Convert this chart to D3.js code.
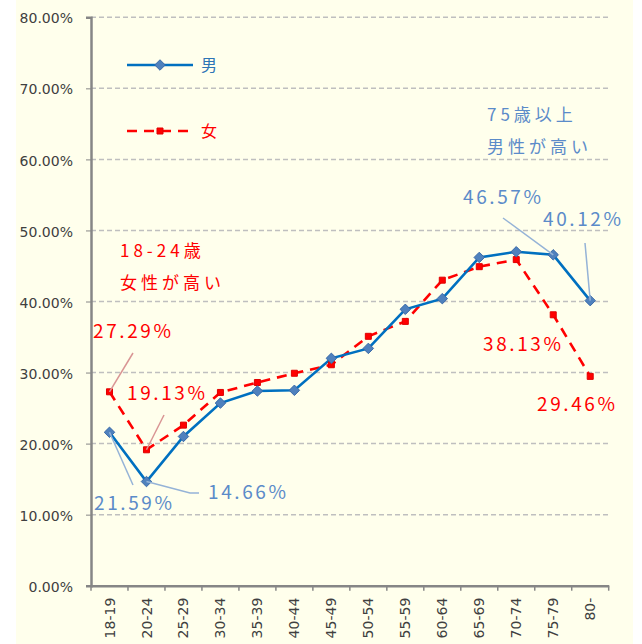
<!DOCTYPE html>
<html lang="ja">
<head>
<meta charset="UTF-8">
<title>男女別 年齢別</title>
<style>
    body { margin: 0; background: #fff; }
    .axis text { font-family: "DejaVu Sans", sans-serif; font-size: 14px; fill: #404040; }
    .axis path, .axis line { stroke: #868686; }
    .grid line { stroke: #bfbfbf; stroke-dasharray: 5,3; stroke-width: 1.5; }
    .note { font-family: "Noto Sans CJK JP", sans-serif; }
</style>
</head>
<body>
<script src="https://d3js.org/d3.v7.min.js"></script>
<script>
// values (percent)
var ages = ["18-19", "20-24", "25-29", "30-34", "35-39", "40-44", "45-49",
            "50-54", "55-59", "60-64", "65-69", "70-74", "75-79", "80-"];
var male = [21.59, 14.66, 21.0, 25.7, 27.4, 27.5, 32.0, 33.4, 38.9, 40.4, 46.2, 47.0, 46.57, 40.12];
var female = [27.29, 19.13, 22.6, 27.2, 28.6, 29.9, 31.1, 35.1, 37.2, 43.0, 44.9, 45.9, 38.13, 29.46];
var yTicks = [0, 10, 20, 30, 40, 50, 60, 70, 80];

var W = 642, H = 644;
var margin = {top: 17.3, left: 91},
    width = 517.7,
    height = 568.4;

var svg = d3.select("body").append("svg")
    .attr("width", W).attr("height", H);

svg.append("rect")
    .attr("x", 16).attr("y", 0)
    .attr("width", 617).attr("height", H)
    .attr("fill", "#ffffec");

var g = svg.append("g")
    .attr("transform", "translate(" + margin.left + "," + margin.top + ")");

var x = d3.scaleBand().domain(ages).range([0, width]);
var y = d3.scaleLinear().domain([0, 80]).range([height, 0]);
var cx = function(i) { return x(ages[i]) + x.bandwidth() / 2; };

// gridlines
g.append("g").attr("class", "grid")
    .selectAll("line")
    .data(yTicks.slice(1))
    .enter().append("line")
    .attr("x1", 0).attr("x2", width)
    .attr("y1", function(d) { return y(d); })
    .attr("y2", function(d) { return y(d); });

// axes
g.append("g")
    .attr("class", "axis axis--y")
    .call(d3.axisLeft(y).tickValues(yTicks).tickSize(5).tickPadding(13)
        .tickFormat(function(d) { return d.toFixed(2) + "%"; }))
    .call(function(a) { a.select(".domain").attr("stroke-width", 2.5); })
    .selectAll("text").attr("dy", "0.4em");

var xAxis = g.append("g")
    .attr("class", "axis axis--x")
    .attr("transform", "translate(0," + height + ")")
    .call(d3.axisBottom(x).tickSize(0).tickFormat(""));
xAxis.select(".domain").attr("stroke-width", 2.5);
// tick marks between categories
xAxis.selectAll(".sep")
    .data(d3.range(ages.length + 1))
    .enter().append("line")
    .attr("class", "sep")
    .attr("x1", function(i) { return i * x.step(); })
    .attr("x2", function(i) { return i * x.step(); })
    .attr("y1", 0).attr("y2", 5)
    .attr("stroke", "#868686").attr("stroke-width", 1.5);
xAxis.selectAll(".lab")
    .data(ages)
    .enter().append("text")
    .attr("class", "lab")
    .attr("transform", function(d) { return "translate(" + (x(d) + x.bandwidth() / 2) + ",12) rotate(-90)"; })
    .attr("dy", "0.36em")
    .attr("text-anchor", "end")
    .text(function(d) { return d; });

// lines
var line = d3.line()
    .x(function(d, i) { return cx(i); })
    .y(function(d) { return y(d); });

g.append("path")
    .datum(female)
    .attr("fill", "none")
    .attr("stroke", "#ff0000")
    .attr("stroke-width", 2.6)
    .attr("stroke-dasharray", "10,7")
    .attr("d", line);

g.append("path")
    .datum(male)
    .attr("fill", "none")
    .attr("stroke", "#0070c0")
    .attr("stroke-width", 2.6)
    .attr("d", line);

var diamond = d3.symbol().type(d3.symbolDiamond2).size(70);
var square = d3.symbol().type(d3.symbolSquare).size(36);

g.selectAll(".fm")
    .data(female)
    .enter().append("path")
    .attr("class", "fm")
    .attr("transform", function(d, i) { return "translate(" + cx(i) + "," + y(d) + ")"; })
    .attr("d", square)
    .attr("fill", "#ff0000")
    .attr("stroke", "#e00000");

g.selectAll(".mm")
    .data(male)
    .enter().append("path")
    .attr("class", "mm")
    .attr("transform", function(d, i) { return "translate(" + cx(i) + "," + y(d) + ")"; })
    .attr("d", diamond)
    .attr("fill", "#4f81bd")
    .attr("stroke", "#3a6aa8");

// legend
var leg = svg.append("g");
leg.append("line").attr("x1", 127).attr("x2", 193).attr("y1", 65).attr("y2", 65)
    .attr("stroke", "#0070c0").attr("stroke-width", 2.6);
leg.append("path").attr("transform", "translate(160,65)").attr("d", diamond)
    .attr("fill", "#4f81bd").attr("stroke", "#3a6aa8");
leg.append("text").attr("class", "note").attr("x", 201).attr("y", 71)
    .attr("font-size", 16).attr("fill", "#2e75b6").text("男");
leg.append("line").attr("x1", 127).attr("x2", 193).attr("y1", 131).attr("y2", 131)
    .attr("stroke", "#ff0000").attr("stroke-width", 2.6).attr("stroke-dasharray", "10,7");
leg.append("path").attr("transform", "translate(160,131)").attr("d", square)
    .attr("fill", "#ff0000").attr("stroke", "#e00000");
leg.append("text").attr("class", "note").attr("x", 201).attr("y", 137)
    .attr("font-size", 16).attr("fill", "#ff0000").text("女");

// value labels with leader lines
var blue = "#5b8bc9", red = "#ff0000";
var notes = [
    {s: female, i: 0, text: "27.29%", c: red, tx: 93, ty: 338, lead: [[133, 353]]},
    {s: female, i: 1, text: "19.13%", c: red, tx: 127, ty: 400, lead: [[164, 415]]},
    {s: male, i: 0, text: "21.59%", c: blue, tx: 94, ty: 510, lead: [[133, 485]]},
    {s: male, i: 1, text: "14.66%", c: blue, tx: 208, ty: 499, lead: [[190, 493], [199, 493]]},
    {s: male, i: 12, text: "46.57%", c: blue, tx: 463, ty: 204, lead: [[503, 218]]},
    {s: male, i: 13, text: "40.12%", c: blue, tx: 543, ty: 226, lead: [[585, 243]]},
    {s: female, i: 12, text: "38.13%", c: red, tx: 483, ty: 351, lead: null},
    {s: female, i: 13, text: "29.46%", c: red, tx: 537, ty: 411, lead: null}
];

notes.forEach(function(n) {
    if (n.lead) {
        var pts = [[margin.left + cx(n.i), margin.top + y(n.s[n.i])]].concat(n.lead);
        svg.append("path")
            .attr("d", d3.line()(pts))
            .attr("fill", "none")
            .attr("stroke", n.c === red ? "#d99594" : "#95b3d7")
            .attr("stroke-width", 1.5);
    }
    svg.append("text")
        .attr("class", "note")
        .attr("x", n.tx).attr("y", n.ty)
        .attr("font-size", 19)
        .attr("letter-spacing", "2.6px")
        .attr("fill", n.c)
        .text(n.text);
});

// comments
function comment(lines, x0, y0, col) {
    lines.forEach(function(t, k) {
        svg.append("text")
            .attr("class", "note")
            .attr("x", x0).attr("y", y0 + k * 32)
            .attr("font-size", 17)
            .attr("letter-spacing", "4px")
            .attr("fill", col)
            .text(t);
    });
}
comment(["75歳以上", "男性が高い"], 487, 121, blue);
comment(["18-24歳", "女性が高い"], 120, 257, red);
</script>
</body>
</html>
